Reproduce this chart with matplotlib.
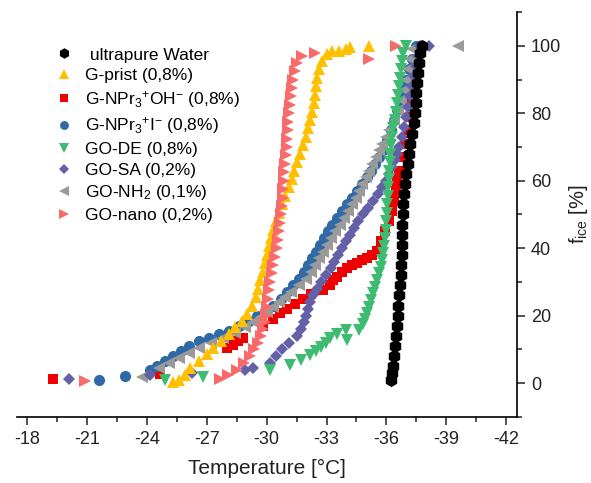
import matplotlib
matplotlib.use("Agg")
import matplotlib.pyplot as plt
from matplotlib.ticker import MultipleLocator

plt.rcParams['font.family'] = ['Liberation Sans', 'DejaVu Sans']
plt.rcParams['mathtext.fontset'] = 'custom'
plt.rcParams['mathtext.rm'] = 'Liberation Sans'
plt.rcParams['mathtext.it'] = 'Liberation Sans:italic'

# ---------------- data (temperature in degC, frozen fraction in %) ----------------
T_water = [-36.25, -36.28, -36.32, -36.38, -36.42, -36.46, -36.52, -36.56, -36.6, -36.65,
           -36.7, -36.73, -36.75, -36.76, -36.78, -36.8, -36.8, -36.82, -36.85, -36.88,
           -36.92, -37.0, -37.1, -37.15, -37.2, -37.3, -37.38, -37.42, -37.47, -37.5,
           -37.53, -37.57, -37.62, -37.7, -37.78]
f_water = [1, 3, 5, 8, 11, 14, 17, 20, 23, 26,
           29, 32, 35, 38, 41, 44, 47, 50, 53, 56,
           59, 62, 65, 68, 71, 74, 77, 80, 83, 86,
           89, 92, 95, 98, 100]

T_prist = [-25.3, -25.6, -25.9, -26.15, -26.6, -27.0, -27.3, -27.7, -28.1, -28.4,
           -28.75, -29.0, -29.25, -29.45, -29.55, -29.65, -29.8, -29.9, -30.0, -30.1,
           -30.2, -30.3, -30.45, -30.6, -30.75, -30.9, -31.1, -31.25, -31.35, -31.5,
           -31.65, -31.8, -31.95, -32.05, -32.15, -32.25, -32.35, -32.4, -32.45, -32.5,
           -32.6, -32.75, -33.0, -33.3, -33.65, -34.0, -34.2, -35.15]
f_prist = [0.3, 1, 2.5, 4.5, 6.5, 8.5, 10.5, 12.5, 14.5, 16.5,
           18.5, 20.5, 23, 25.5, 28, 30.5, 33, 35.5, 38, 40.5,
           43, 45.5, 48, 50.5, 53, 55.5, 58, 60.5, 63, 65.5,
           68, 70.5, 73, 75.5, 78, 80.5, 83, 85.5, 88, 90.5,
           93, 95.5, 97.5, 98.5, 98.5, 99, 99.5, 100]

T_oh = [-19.3, -24.65, -28.0, -28.3, -28.55, -28.8, -29.8, -30.3, -30.65, -31.0,
        -31.4, -31.8, -32.2, -32.8, -33.15, -33.35, -33.55, -33.8, -34.05, -34.3,
        -34.55, -34.8, -35.05, -35.3, -35.55, -35.75, -35.95, -36.15, -36.3, -36.4,
        -36.5, -36.55, -36.65, -36.8, -36.95, -37.1, -37.2, -37.3, -37.4, -37.5,
        -37.6, -37.7]
f_oh = [1.2, 2.6, 10.5, 11.2, 12.5, 13.3, 17, 19, 20.7, 22,
        23.5, 25, 26.5, 27.5, 29, 30.5, 31.4, 33, 34, 35,
        35.5, 36.5, 37, 38, 39.3, 42, 45, 48, 51, 54,
        57, 60, 63, 67, 71, 75, 79, 83, 87, 91,
        95, 100]

T_iod = [-21.6, -22.9, -24.15, -24.5, -24.9, -25.3, -25.7, -26.1, -26.6, -27.1,
         -27.6, -28.1, -28.6, -29.1, -29.5, -29.9, -30.3, -30.7, -31.0, -31.3,
         -31.6, -31.85, -32.05, -32.25, -32.45, -32.65, -32.85, -33.05, -33.3, -33.55,
         -33.8, -34.05, -34.3, -34.55, -34.8, -35.05, -35.25, -35.45, -35.65, -35.85,
         -36.05, -36.25, -36.4, -36.55, -36.7, -36.85, -37.0, -37.15, -37.3, -37.5]
f_iod = [0.9, 2, 3.8, 5, 6.5, 8, 9.5, 11, 12.5, 13.5,
         14.5, 15.5, 17, 18.5, 20, 21.5, 23, 25, 27, 29,
         31, 33, 35, 37, 39, 41, 43, 45, 47, 49,
         51, 53, 55, 57, 59, 61, 63, 65, 67, 69,
         72, 75, 78, 81, 84, 87, 90, 93, 96, 100]

T_de = [-24.9, -26.8, -30.15, -31.15, -31.7, -32.15, -32.45, -32.7, -32.95, -33.15,
        -33.55, -34.0, -34.05, -34.65, -34.85, -34.95, -35.05, -35.15, -35.25, -35.35,
        -35.45, -35.55, -35.65, -35.75, -35.8, -35.85, -35.9, -35.95, -35.98, -36.0,
        -36.03, -36.05, -36.08, -36.1, -36.12, -36.15, -36.18, -36.2, -36.25, -36.3,
        -36.35, -36.45, -36.5, -36.55, -36.6, -36.65, -36.7, -36.75, -36.8, -36.85,
        -37.0]
f_de = [0.9, 1.8, 3.8, 5.3, 6.8, 8.3, 9.5, 10.7, 12, 13.3,
        14.5, 15.7, 12.7, 15.7, 17.5, 19, 20.7, 22.5, 24.5, 26.6,
        28.5, 30.5, 32.5, 34.5, 36.5, 38.5, 40.5, 43, 45.5, 48,
        50.5, 53, 55.5, 58, 60.5, 63, 65.5, 68, 70.5, 73,
        75.5, 78, 80.5, 83, 85.5, 88, 90.5, 93, 95.5, 98,
        100]

T_sa = [-20.1, -24.15, -26.25, -28.9, -29.3, -30.15, -30.45, -30.75, -31.1, -31.5,
        -31.7, -31.85, -31.95, -32.05, -32.15, -32.3, -32.5, -32.7, -32.95, -33.2,
        -33.4, -33.6, -33.8, -34.0, -34.2, -34.4, -34.6, -34.85, -35.1, -35.35,
        -35.6, -35.8, -36.0, -36.15, -36.3, -36.45, -36.55, -36.65, -36.8, -36.9,
        -37.0, -37.1, -37.2, -37.3, -37.4, -37.5, -37.6, -37.7, -38.15]
f_sa = [1.2, 2.4, 3, 3.8, 4.4, 6, 8, 10, 12, 14,
        16, 18, 20, 22, 24, 26, 28, 30, 32, 34,
        36, 38, 40, 42, 44, 46, 48, 50, 52, 54,
        56, 58, 60, 62, 64, 66, 68, 70, 73, 76,
        79, 82, 85, 88, 91, 94, 97, 100, 100]

T_nh2 = [-23.75, -24.6, -25.1, -25.6, -26.1, -26.6, -27.2, -27.8, -28.4, -28.9,
         -29.3, -29.7, -30.0, -30.3, -30.6, -30.9, -31.2, -31.6, -31.95, -32.2,
         -32.4, -32.6, -32.8, -33.0, -33.2, -33.45, -33.7, -33.9, -34.1, -34.3,
         -34.5, -34.65, -34.8, -35.0, -35.15, -35.3, -35.5, -35.65, -35.8, -36.0,
         -36.15, -36.4, -36.6, -36.75, -36.9, -37.0, -37.1, -37.2, -37.3, -39.6]
f_nh2 = [1.8, 4.5, 6, 7.5, 9, 10.5, 12, 13.5, 15, 16.5,
         18, 19.5, 21, 22.5, 24, 25.5, 27, 29, 31, 33,
         35, 37, 39, 41, 43, 45, 47, 49, 51, 53,
         55, 57, 59, 61, 63, 65, 67, 69, 71, 73,
         75, 78, 81, 84, 87, 90, 93, 96, 99, 100]

T_nano = [-20.9, -27.65, -28.05, -28.5, -28.85, -29.15, -29.35, -29.55, -29.7, -29.8,
          -29.9, -29.95, -30.0, -30.05, -30.1, -30.15, -30.25, -30.3, -30.4, -30.5,
          -30.55, -30.6, -30.65, -30.7, -30.75, -30.8, -30.82, -30.85, -30.88, -30.92,
          -30.97, -31.0, -31.03, -31.05, -31.08, -31.1, -31.15, -31.2, -31.25, -31.3,
          -31.4, -31.5, -31.75, -32.4, -35.15, -36.5]
f_nano = [0.6, 1.2, 2.5, 4, 6, 8, 10, 12, 14, 16,
          18, 20, 22.5, 25, 27.5, 30, 32.5, 35, 37.5, 40,
          42.5, 45, 47.5, 50, 52.5, 55, 57.5, 60, 62.5, 65,
          67.5, 70, 72.5, 75, 77.5, 80, 82.5, 85, 87.5, 90,
          92.5, 95, 97, 98, 96, 100]

labels = [' ultrapure Water',
          'G-prist (0,8%)',
          r'G-NPr$_3$$^{+}$OH$^{-}$ (0,8%)',
          r'G-NPr$_3$$^{+}$I$^{-}$ (0,8%)',
          'GO-DE (0,8%)',
          'GO-SA (0,2%)',
          r'GO-NH$_2$ (0,1%)',
          'GO-nano (0,2%)']

xticks = [-18, -21, -24, -27, -30, -33, -36, -39, -42]
yticks = [0, 20, 40, 60, 80, 100]

# ---------------- figure ----------------
fig = plt.figure(figsize=(5.91, 4.83), dpi=100)
ax = fig.add_axes([0.029, 0.137, 0.846, 0.838])

# (T, f, marker, colour, zorder, markersize)
series = [
    (T_water, f_water, 'h', '#000000', 8, 9.5),
    (T_prist, f_prist, '^', '#FFC000', 5, 9.0),
    (T_oh, f_oh, 's', '#EE0000', 1, 7.0),
    (T_iod, f_iod, 'o', '#2F6AA6', 2, 8.0),
    (T_de, f_de, 'v', '#3DBB70', 7, 9.0),
    (T_sa, f_sa, 'D', '#6360A8', 4, 6.5),
    (T_nh2, f_nh2, '<', '#9A9A9A', 3, 9.0),
    (T_nano, f_nano, '>', '#F96B6B', 6, 9.0),
]

handles = []
for (T, f, m, c, z, ms), lab in zip(series, labels):
    h, = ax.plot(T, f, linestyle='none', marker=m, color=c, markersize=ms,
                 markeredgewidth=0, zorder=z, label=lab)
    handles.append(h)

ax.set_xlim(-17.5, -42.55)
ax.set_ylim(-10, 110)

ax.spines['top'].set_visible(False)
ax.spines['left'].set_visible(False)
ax.spines['bottom'].set_linewidth(1.2)
ax.spines['right'].set_linewidth(1.2)

ax.set_xticks(xticks)
ax.set_xticklabels([str(t) for t in xticks])
ax.xaxis.set_minor_locator(MultipleLocator(1.5))
ax.yaxis.tick_right()
ax.yaxis.set_label_position('right')
ax.set_yticks(yticks)
ax.yaxis.set_minor_locator(MultipleLocator(10))
ax.tick_params(axis='both', which='major', direction='out', length=6, width=1.1,
               labelsize=13, colors='#222222', pad=4)
ax.tick_params(axis='both', which='minor', direction='out', length=3.5, width=1.1,
               colors='#222222')
ax.tick_params(axis='y', which='both', left=False, right=True)

ax.set_xlabel('Temperature [°C]', fontsize=15, color='#222222', labelpad=8)
ax.set_ylabel(r'f$_{\mathrm{ice}}$ [%]', fontsize=14.5, color='#222222', labelpad=4)

leg = ax.legend(handles=handles, loc='upper left', bbox_to_anchor=(0.062, 0.93),
                frameon=False, fontsize=12.5, handletextpad=0.7, labelspacing=0.32,
                handlelength=1.0, markerscale=0.8, borderaxespad=0)

fig.savefig('out.png', dpi=100)
